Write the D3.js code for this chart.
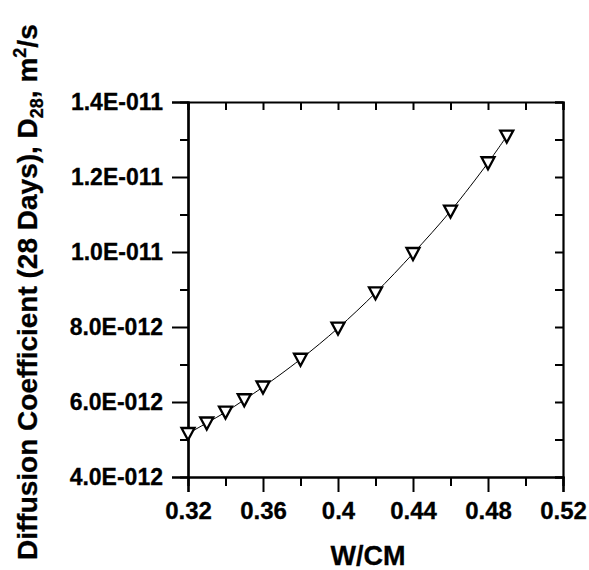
<!DOCTYPE html>
<html lang="en">
<head>
    <meta charset="UTF-8">
    <title>Diffusion coefficient vs W/CM</title>
    <style>
        body {
            margin: 0;
            background: #fff;
        }
        svg text {
            font-family: "Liberation Sans", Arial, sans-serif;
            font-weight: bold;
            fill: #000;
            stroke: #000;
            stroke-width: 0.3px;
        }
    </style>
</head>
<body>
<div id="chart"></div>
<script src="https://d3js.org/d3.v7.min.js"></script>
<script>
    // data
    const wcm = [0.32, 0.33, 0.34, 0.35, 0.36, 0.38, 0.40, 0.42, 0.44, 0.46, 0.48, 0.49];
    const d28 = [5.16e-12, 5.44e-12, 5.73e-12, 6.06e-12, 6.40e-12, 7.14e-12, 7.97e-12, 8.91e-12, 9.96e-12, 1.109e-11, 1.238e-11, 1.309e-11];

    const xMajor = [0.32, 0.36, 0.40, 0.44, 0.48, 0.52];
    const xMinor = [0.34, 0.38, 0.42, 0.46, 0.50];
    const xTickLabels = ["0.32", "0.36", "0.4", "0.44", "0.48", "0.52"];
    const yMajor = [4e-12, 6e-12, 8e-12, 1e-11, 1.2e-11, 1.4e-11];
    const yMinor = [5e-12, 7e-12, 9e-12, 1.1e-11, 1.3e-11];
    const yTickLabels = ["4.0E-012", "6.0E-012", "8.0E-012", "1.0E-011", "1.2E-011", "1.4E-011"];

    const width = 589, height = 570;
    const plotL = 188, plotR = 563, plotT = 102, plotB = 477;

    const svg = d3.select("#chart")
        .append("svg")
        .attr("width", width)
        .attr("height", height);

    const x = d3.scaleLinear().domain([0.32, 0.52]).range([plotL, plotR]);
    const y = d3.scaleLinear().domain([4e-12, 1.4e-11]).range([plotB, plotT]);

    // axes -- left and bottom have outward ticks with labels
    const gLeft = svg.append("g").attr("transform", `translate(${plotL},0)`);
    gLeft.call(d3.axisLeft(y).tickValues(yMajor).tickSize(16).tickPadding(9)
        .tickFormat((d, i) => yTickLabels[i]));
    gLeft.attr("font-size", 23);
    gLeft.append("g").call(d3.axisLeft(y).tickValues(yMinor).tickSize(8).tickFormat(""));

    const gBottom = svg.append("g").attr("transform", `translate(0,${plotB})`);
    gBottom.call(d3.axisBottom(x).tickValues(xMajor).tickSize(15).tickPadding(10)
        .tickFormat((d, i) => xTickLabels[i]));
    gBottom.attr("font-size", 24);
    gBottom.append("g").call(d3.axisBottom(x).tickValues(xMinor).tickSize(9).tickFormat(""));

    // top and right: inward ticks, no labels
    svg.append("g").attr("transform", `translate(0,${plotT})`)
        .call(d3.axisBottom(x).tickValues(xMajor.concat(xMinor)).tickSize(8).tickFormat(""));
    svg.append("g").attr("transform", `translate(${plotR},0)`)
        .call(d3.axisLeft(y).tickValues(yMajor.concat(yMinor)).tickSize(8).tickFormat(""));

    svg.selectAll(".domain").attr("stroke", "#000").attr("stroke-width", 2.2);
    svg.selectAll(".tick line").attr("stroke", "#000").attr("stroke-width", 2);

    // curve through the points
    const pts = wcm.map((v, i) => [v, d28[i]]);
    const line = d3.line()
        .curve(d3.curveCatmullRom.alpha(0.5))
        .x(d => x(d[0]))
        .y(d => y(d[1]));

    svg.append("path")
        .datum(pts)
        .attr("fill", "none")
        .attr("stroke", "#000")
        .attr("stroke-width", 1)
        .attr("d", line);

    // open down-pointing triangles
    svg.selectAll(".marker")
        .data(pts)
        .join("path")
        .attr("class", "marker")
        .attr("transform", d => `translate(${x(d[0])},${y(d[1])})`)
        .attr("d", "M-6.5,-5.5L6.5,-5.5L0,6.5Z")
        .attr("fill", "#fff")
        .attr("stroke", "#000")
        .attr("stroke-width", 2.3);

    // axis titles
    svg.append("text")
        .attr("x", 368)
        .attr("y", 565)
        .attr("text-anchor", "middle")
        .style("font-size", "27px")
        .text("W/CM");

    const yt = svg.append("text")
        .attr("transform", "translate(37,560) rotate(-90)")
        .attr("text-anchor", "start")
        .style("font-size", "28px");
    yt.append("tspan").text("Diffusion Coefficient (28 Days), D");
    yt.append("tspan").attr("dy", 6).style("font-size", "18px").text("28");
    yt.append("tspan").attr("dy", -6).text(", m");
    yt.append("tspan").attr("dy", -11).style("font-size", "18px").text("2");
    yt.append("tspan").attr("dy", 11).text("/s");
</script>
</body>
</html>
